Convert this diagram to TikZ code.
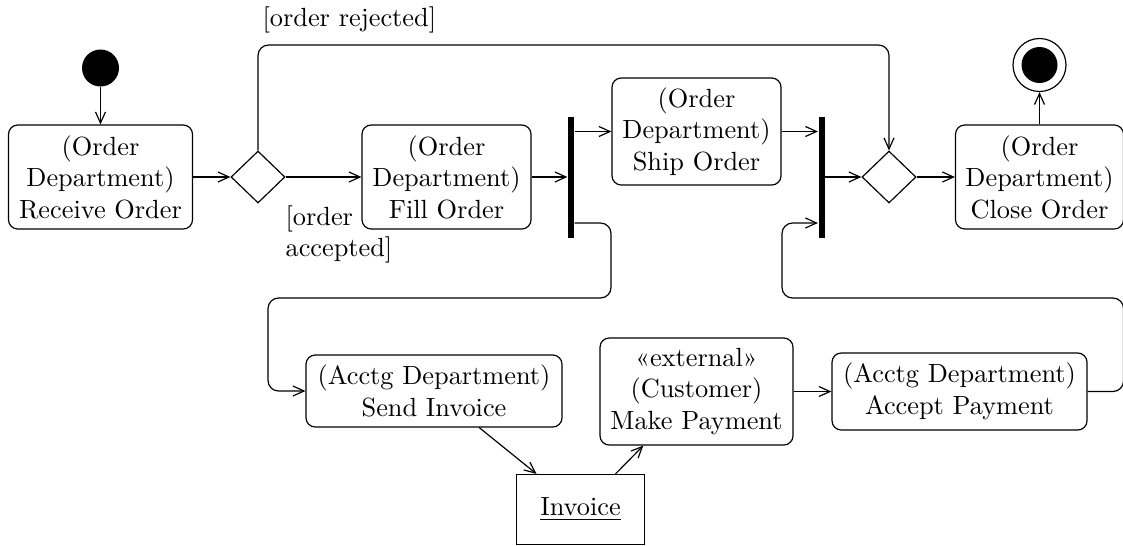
\documentclass[tikz,border=0pt]{standalone}
\usepackage{fontspec}
\usetikzlibrary{arrows.meta,shapes.geometric}
\tikzset{
  flow/.style={draw,-{Straight Barb[length=4.2pt,width=3.8pt]}},
  action/.style={draw,rounded corners=3.5pt,align=center,inner sep=0pt},
  sz/.style 2 args={minimum width={#1*0.38pt},minimum height={#2*0.38pt}},
  syncbar/.style={fill=black,inner sep=0pt,minimum width={6*0.38pt},minimum height={121*0.38pt}},
  decision/.style={draw,diamond,inner sep=0pt,minimum width={54*0.38pt},minimum height={52*0.38pt}},
  elbow/.style={rounded corners=4pt},
  guard/.style={inner sep=0pt},
}
\begin{document}
\begin{tikzpicture}[x=0.38pt,y=-0.38pt,line width=0.45pt]
\useasboundingbox (0,0) rectangle (1123,545);

% start and end
\node[circle,fill=black,inner sep=0pt,minimum size={37*0.38pt}] (init) at (100.5,68) {};
\node[circle,draw,inner sep=0pt,minimum size={53*0.38pt}] (final) at (1039.5,65) {};
\node[circle,fill=black,inner sep=0pt,minimum size={36*0.38pt}] (finaldot) at (final) {};

% actions
\node[action,sz={184}{104}] (recv) at (100.5,177) {(Order\\Department)\\Receive Order};
\node[decision] (d1) at (258,177) {};
\node[action,sz={169}{104}] (fill) at (446.5,177) {(Order\\Department)\\Fill Order};
\node[syncbar] (bar1) at (571,177.5) {};
\node[action,sz={169}{107}] (ship) at (696.5,131.5) {(Order\\Department)\\Ship Order};
\node[syncbar] (bar2) at (821.5,177.5) {};
\node[decision] (d2) at (889,177) {};
\node[action,sz={168}{104}] (close) at (1039.5,177) {(Order\\Department)\\Close Order};
\node[action,sz={256}{72}] (send) at (434,391) {(Acctg Department)\\Send Invoice};
\node[action,sz={193}{107}] (make) at (696.5,391.5) {«external»\\(Customer)\\Make Payment};
\node[action,sz={255}{77}] (accept) at (959.5,391.5) {(Acctg Department)\\Accept Payment};
\node[draw,inner sep=0pt,sz={128}{70}] (invoice) at (580.5,509.5) {\underline{Invoice}};

% helper levels
\coordinate (top) at (0,45);
\coordinate (low) at (0,223);

% flows
\draw[flow] (init) -- (recv);
\draw[flow] (recv) -- (d1);
\draw[flow] (d1) -- (fill);
\draw[flow] (fill) -- (fill -| bar1.west);
\draw[flow] (bar1.east |- ship.west) -- (ship.west);
\draw[flow,elbow] (bar1.east |- low) -| (611,298) -| (268,391) -- (send.west);
\draw[flow] (ship.east) -- (ship.east -| bar2.west);
\draw[flow] (bar2.east |- d2.west) -- (d2.west);
\draw[flow,elbow] (accept.east) -| (1123.5,298) -| (782,223) -- (bar2.west |- low);
\draw[flow,elbow] (d1.north) -- (d1.north |- top) -- (d2.north |- top) -- (d2.north);
\draw[flow] (d2) -- (close);
\draw[flow] (close) -- (final);
\draw[flow] (send) -- (invoice);
\draw[flow] (invoice) -- (make);
\draw[flow] (make) -- (accept);

% guards
\node[guard,anchor=base west] (rejected) at (262,26) {[order rejected]};
\node[guard,anchor=north west,align=left] (accepted) at (285,205) {[order\\accepted]};
\end{tikzpicture}
\end{document}
